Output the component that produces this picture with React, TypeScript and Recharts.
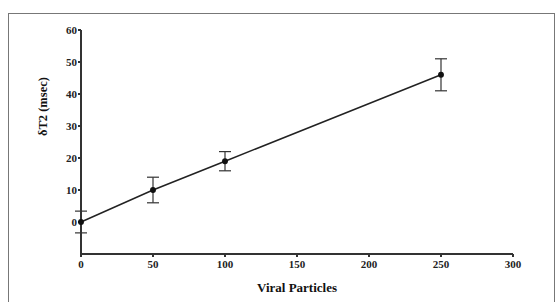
import React from "react";
import { ComposedChart, Line, XAxis, YAxis, ErrorBar } from "recharts";

const particles = [0, 50, 100, 250];
const deltaT2 = [0, 10, 19, 46];
const errors = [3.4, 4, 3, 5];
const xTicks = [0, 50, 100, 150, 200, 250, 300];
const yTicks = [0, 10, 20, 30, 40, 50, 60];

const data = particles.map((p, i) => ({ x: p, y: deltaT2[i], err: errors[i] }));

const font = "Liberation Serif";

export default function App() {
  return (
    <div style={{ position: "absolute", left: 0, top: 0, width: 557, height: 302, background: "#fff", overflow: "hidden", fontFamily: font }}>
      <div style={{ position: "absolute", left: 8, top: 13, width: 547, height: 300, border: "1.5px solid #777", boxSizing: "border-box" }} />
      <div style={{ position: "absolute", left: 0, top: 0 }}>
        <ComposedChart width={557} height={302} data={data} margin={{ top: 30, left: 51, right: 44, bottom: 18 }} style={{ fontFamily: font }}>
          <XAxis
            type="number"
            dataKey="x"
            domain={[0, 300]}
            ticks={xTicks}
            height={30}
            tickSize={3}
            tickMargin={3}
            stroke="#333"
            strokeWidth={2}
            tick={{ fill: "#222", fontSize: 11, fontWeight: "bold", style: { fontFamily: font } }}
            label={{ value: "Viral Particles", position: "insideBottom", offset: -8, fill: "#111", fontSize: 13, fontWeight: "bold", style: { fontFamily: font } }}
          />
          <YAxis
            type="number"
            domain={[-10, 60]}
            ticks={yTicks}
            width={30}
            tickSize={3}
            tickMargin={1}
            stroke="#333"
            strokeWidth={2}
            tick={{ fill: "#222", fontSize: 11, fontWeight: "bold", style: { fontFamily: font } }}
            label={{ value: "δT2 (msec)", angle: -90, position: "insideLeft", offset: -8, dy: -6, fill: "#111", fontSize: 12.5, fontWeight: "bold", style: { fontFamily: font } }}
          />
          <Line
            dataKey="y"
            stroke="#222"
            strokeWidth={1.5}
            dot={{ r: 2.2, fill: "#111", stroke: "#111" }}
            isAnimationActive={false}
          >
            <ErrorBar dataKey="err" width={6} stroke="#333" strokeWidth={1.2} direction="y" />
          </Line>
        </ComposedChart>
      </div>
    </div>
  );
}
